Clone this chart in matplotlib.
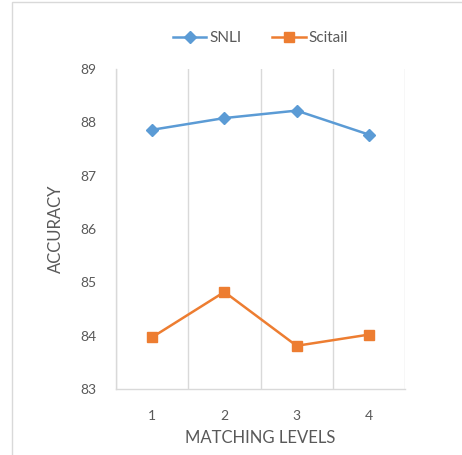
import matplotlib
matplotlib.use("Agg")
import matplotlib.pyplot as plt
from matplotlib.patches import Rectangle

levels = ["1", "2", "3", "4"]
snli = [87.86, 88.08, 88.22, 87.77]
scitail = [83.97, 84.82, 83.81, 84.02]
yticks = [83, 84, 85, 86, 87, 88, 89]

plt.rcParams['font.family'] = ['Lato', 'DejaVu Sans']
W, H = 462, 455
fig = plt.figure(figsize=(W / 100, H / 100), dpi=100)
ax = fig.add_axes([116 / W, 1 - 389 / H, (405 - 116) / W, 320 / H])

# outer chart border
fig.patches.append(Rectangle((12 / W, -0.1), 1.2, 1 - 2 / H + 0.1, transform=fig.transFigure,
                             fill=False, edgecolor='#D9D9D9', linewidth=1.0))

x = list(range(1, len(levels) + 1))
ax.plot(x, snli, color='#5B9BD5', linewidth=1.8, marker='D', markersize=6.5, label='SNLI')
ax.plot(x, scitail, color='#ED7D31', linewidth=1.8, marker='s', markersize=6.5, label='Scitail')

ax.set_xlim(0.5, len(levels) + 0.5)
ax.set_ylim(83, 89)
ax.set_yticks(yticks)
ax.set_xticks(x)
ax.set_xticklabels(levels)
ax.set_xticks([i + 0.5 for i in range(0, len(levels) + 1)], minor=True)
ax.grid(True, which='minor', axis='x', color='#D9D9D9', linewidth=1.0)
ax.tick_params(which='both', length=0)
ax.tick_params(axis='y', pad=14, labelsize=10, labelcolor='#595959')
ax.tick_params(axis='x', pad=15, labelsize=10, labelcolor='#595959')
for s in ['top', 'right']:
    ax.spines[s].set_visible(False)
for s in ['left', 'bottom']:
    ax.spines[s].set_color('#D9D9D9')
    ax.spines[s].set_linewidth(1.0)
ax.set_axisbelow(True)

ax.set_xlabel('MATCHING LEVELS', fontsize=12, color='#595959', labelpad=6)
ax.set_ylabel('ACCURACY', fontsize=12, color='#595959', labelpad=12)

ax.legend(loc='lower center', bbox_to_anchor=(0.5, 1.045), ncol=2, frameon=False,
          fontsize=11, labelcolor='#595959', handlelength=2.2, columnspacing=2.0,
          handletextpad=0.2, borderaxespad=0.2)

fig.savefig('out.png', dpi=100)
